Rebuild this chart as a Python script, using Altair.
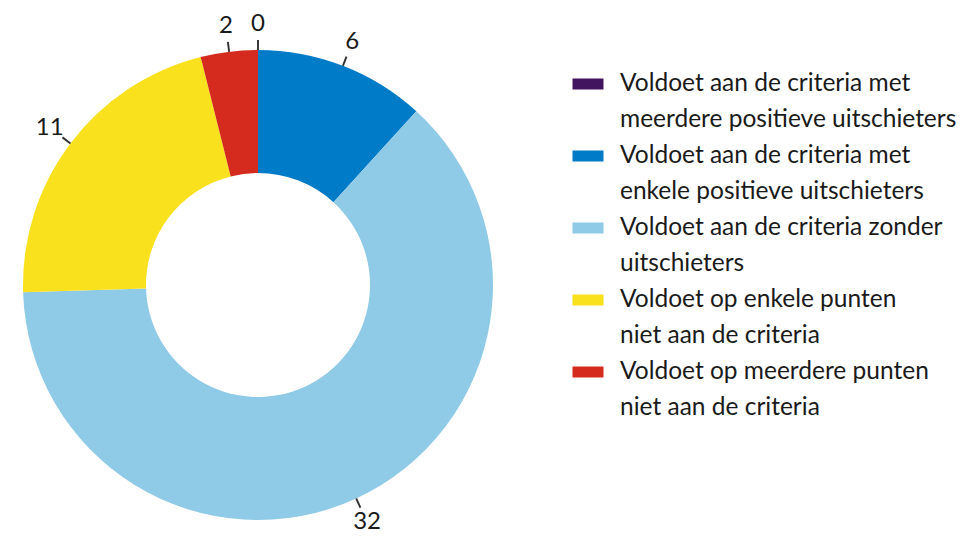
import altair as alt
import pandas as pd

categories = [
    "Voldoet aan de criteria met meerdere positieve uitschieters",
    "Voldoet aan de criteria met enkele positieve uitschieters",
    "Voldoet aan de criteria zonder uitschieters",
    "Voldoet op enkele punten niet aan de criteria",
    "Voldoet op meerdere punten niet aan de criteria",
]
values = [0, 6, 32, 11, 2]
colors = ["#42145f", "#007bc7", "#8fcae7", "#f9e11e", "#d52b1e"]
legend_lines = [
    ["Voldoet aan de criteria met", "meerdere positieve uitschieters"],
    ["Voldoet aan de criteria met", "enkele positieve uitschieters"],
    ["Voldoet aan de criteria zonder", "uitschieters"],
    ["Voldoet op enkele punten", "niet aan de criteria"],
    ["Voldoet op meerdere punten", "niet aan de criteria"],
]

FONT = "Lato"
TOP = 7

df = pd.DataFrame({"idx": list(range(len(values))), "cat": categories, "value": values})
color_scale = alt.Scale(domain=categories, range=colors)

base = alt.Chart(df).transform_joinaggregate(
    total="sum(value)"
).transform_window(
    cum="sum(value)", sort=[alt.SortField("idx")], frame=[None, 0]
).transform_calculate(
    t0="(datum.cum - datum.value) / datum.total * 2 * PI",
    t1="datum.cum / datum.total * 2 * PI",
    mid="(datum.cum - datum.value / 2) / datum.total * 2 * PI",
).transform_calculate(
    k0="datum.mid - 0.004",
    k1="datum.mid + 0.004",
)

arcs = base.mark_arc(radius=235, radius2=112).encode(
    theta=alt.Theta("t0:Q", scale=None),
    theta2="t1:Q",
    color=alt.Color("cat:N", scale=color_scale, legend=None),
)

ticks = base.mark_arc(radius=245, radius2=235, color="#333333").encode(
    theta=alt.Theta("k0:Q", scale=None),
    theta2="k1:Q",
)

labels = base.mark_text(radius=261, font=FONT, fontSize=24, color="#1a1a1a",
                        baseline="middle", align="center").encode(
    theta=alt.Theta("mid:Q", scale=None),
    text=alt.Text("value:Q"),
)

pie = alt.layer(arcs, ticks, labels).properties(width=516, height=556)

# legend view
rows = []
for i, lines in enumerate(legend_lines):
    for j, t in enumerate(lines):
        rows.append({"row": 2 * i + j, "text": t, "cat": categories[i]})
ldf = pd.DataFrame(rows)
sdf = pd.DataFrame({"row": [2 * i for i in range(len(categories))], "cat": categories})

ltext = alt.Chart(ldf).mark_text(font=FONT, fontSize=24.5, color="#1a1a1a",
                                 align="left", baseline="alphabetic").encode(
    x=alt.value(104),
    y=alt.Y("row:Q", scale=alt.Scale(domain=[0, 9], range=[91 - TOP, 91 - TOP + 324]), axis=None),
    text="text:N",
)
lsym = alt.Chart(sdf).mark_point(
    shape="M-1,-0.355H1V0.355H-1Z", size=961, filled=True, opacity=1
).encode(
    x=alt.value(72),
    y=alt.Y("row:Q", scale=alt.Scale(domain=[0, 9], range=[84 - TOP, 84 - TOP + 324]), axis=None),
    color=alt.Color("cat:N", scale=color_scale, legend=None),
)
legend = alt.layer(lsym, ltext).resolve_scale(y="independent").properties(width=440, height=556)

chart = alt.hconcat(pie, legend, spacing=0).properties(
    padding={"left": 0, "top": TOP, "right": 0, "bottom": 0},
    background="white",
).configure_view(stroke=None)

chart.save("out.html", embed_options={"renderer": "svg", "actions": False})
